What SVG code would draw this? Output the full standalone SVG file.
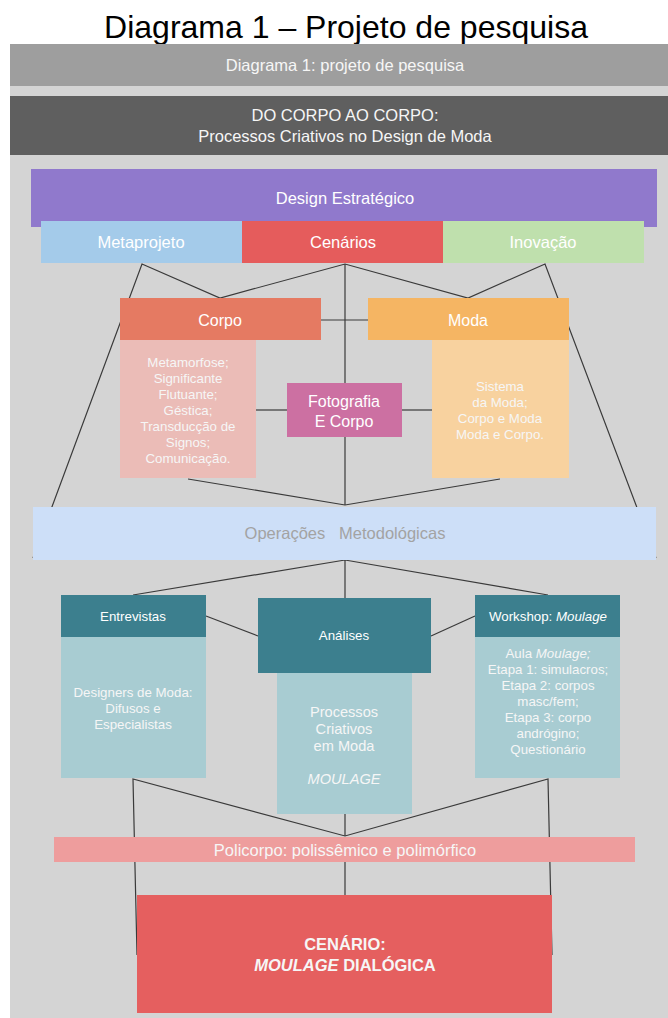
<svg xmlns="http://www.w3.org/2000/svg" width="668" height="1018" viewBox="0 0 668 1018" font-family="'Liberation Sans', Arial, sans-serif">
  <style>
    text { font-family: "Liberation Sans", Arial, sans-serif; text-anchor: middle; }
    .w { fill: #ffffff; }
    .lt { fill: #f6f6f6; }
    .h15 { font-size: 16.5px; }
    .h16 { font-size: 16px; }
    .s12 { font-size: 13.3px; }
    .s14 { font-size: 14.6px; }
    .conn line, .conn polyline { stroke: #3a3a3a; stroke-width: 1.2; fill: none; }
    .hdr { fill: #3c7f8e; }
    .bdy { fill: #a8ccd2; }
  </style>

  <rect width="668" height="1018" fill="#ffffff"/>
  <text x="346" y="38" font-size="32" fill="#000">Diagrama 1 – Projeto de pesquisa</text>

  <!-- panel -->
  <rect x="10" y="44" width="658" height="974" fill="#d4d4d4"/>

  <g id="top-bar">
    <rect x="10" y="44" width="658" height="42" fill="#9e9e9e"/>
    <text x="345" y="71" class="h15 lt">Diagrama 1: projeto de pesquisa</text>
  </g>

  <g id="title-bar">
    <rect x="10" y="96" width="658" height="59" fill="#5f5f5f"/>
    <text x="345" y="121" class="h15 lt">DO CORPO AO CORPO:</text>
    <text x="345" y="142" class="h15 lt">Processos Criativos no Design de Moda</text>
  </g>

  <g id="design-estrategico">
    <rect x="31" y="169" width="626" height="58" fill="#9079cc"/>
    <text x="345" y="204" class="h15 w">Design Estratégico</text>
  </g>

  <g id="metaprojeto">
    <rect x="41" y="221" width="201" height="42" fill="#a4cbea"/>
    <text x="141" y="248" class="h15 w">Metaprojeto</text>
  </g>
  <g id="cenarios">
    <rect x="242" y="221" width="201" height="42" fill="#e55c5c"/>
    <text x="343" y="248" class="h15 w">Cenários</text>
  </g>
  <g id="inovacao">
    <rect x="443" y="221" width="201" height="42" fill="#bfe0ad"/>
    <text x="543" y="248" class="h15 w">Inovação</text>
  </g>

  <!-- connectors -->
  <g class="conn">
    <polyline points="33,558 142,264 220,298 345,264 468,298 545,264 656,558"/>
    <line x1="345" y1="264" x2="345" y2="505"/>
    <line x1="321" y1="320" x2="368" y2="320"/>
    <line x1="256" y1="410" x2="287" y2="410"/>
    <line x1="402" y1="410" x2="432" y2="410"/>
    <polyline points="188,479 345,505 500,479"/>
    <polyline points="133,595 345,560 548,595"/>
    <line x1="345" y1="560" x2="345" y2="598"/>
    <line x1="206" y1="616" x2="258" y2="636"/>
    <line x1="431" y1="636" x2="475" y2="616"/>
    <polyline points="137,955 133,779 345,836 548,779 552,955"/>
    <line x1="345" y1="814" x2="345" y2="836"/>
    <line x1="345" y1="862" x2="345" y2="895"/>
  </g>

  <g id="corpo">
    <rect x="120" y="298" width="201" height="42" fill="#e57a62"/>
    <text x="220" y="326" class="h16 w">Corpo</text>
    <rect x="120" y="340" width="136" height="138" fill="#ebbcb7"/>
    <g class="s12 lt">
      <text x="188" y="367">Metamorfose;</text>
      <text x="188" y="383">Significante</text>
      <text x="188" y="399">Flutuante;</text>
      <text x="188" y="415">Géstica;</text>
      <text x="188" y="431">Transducção de</text>
      <text x="188" y="447">Signos;</text>
      <text x="188" y="463">Comunicação.</text>
    </g>
  </g>

  <g id="moda">
    <rect x="368" y="298" width="201" height="42" fill="#f5b563"/>
    <text x="468" y="326" class="h16 w">Moda</text>
    <rect x="432" y="340" width="137" height="138" fill="#f8d29f"/>
    <g class="s12 lt">
      <text x="500" y="391">Sistema</text>
      <text x="500" y="407">da Moda;</text>
      <text x="500" y="423">Corpo e Moda</text>
      <text x="500" y="439">Moda e Corpo.</text>
    </g>
  </g>

  <g id="fotografia">
    <rect x="287" y="383" width="115" height="54" fill="#cc70a2"/>
    <text x="344" y="407" class="h16 w">Fotografia</text>
    <text x="344" y="427" class="h16 w">E Corpo</text>
  </g>

  <g id="operacoes">
    <rect x="33" y="507" width="623" height="53" fill="#cddff8"/>
    <text x="345" y="539" class="h15" fill="#a3a3a3" xml:space="preserve">Operações   Metodológicas</text>
  </g>

  <g id="entrevistas">
    <rect x="61" y="595" width="145" height="42" class="hdr"/>
    <text x="133" y="621" class="s12 w">Entrevistas</text>
    <rect x="61" y="637" width="145" height="141" class="bdy"/>
    <g class="s12 lt">
      <text x="133" y="697">Designers de Moda:</text>
      <text x="133" y="713">Difusos e</text>
      <text x="133" y="729">Especialistas</text>
    </g>
  </g>

  <g id="analises">
    <rect x="258" y="598" width="173" height="75" class="hdr"/>
    <text x="344" y="640" class="s12 w">Análises</text>
    <rect x="277" y="673" width="135" height="141" class="bdy"/>
    <g class="s14 lt">
      <text x="344" y="717">Processos</text>
      <text x="344" y="734">Criativos</text>
      <text x="344" y="751">em Moda</text>
      <text x="344" y="784" font-style="italic">MOULAGE</text>
    </g>
  </g>

  <g id="workshop">
    <rect x="475" y="595" width="145" height="42" class="hdr"/>
    <text x="548" y="621" class="s12 w">Workshop: <tspan font-style="italic">Moulage</tspan></text>
    <rect x="475" y="637" width="145" height="141" class="bdy"/>
    <g class="s12 lt">
      <text x="548" y="658">Aula <tspan font-style="italic">Moulage;</tspan></text>
      <text x="548" y="674">Etapa 1: simulacros;</text>
      <text x="548" y="690">Etapa 2: corpos</text>
      <text x="548" y="706">masc/fem;</text>
      <text x="548" y="722">Etapa 3: corpo</text>
      <text x="548" y="738">andrógino;</text>
      <text x="548" y="754">Questionário</text>
    </g>
  </g>

  <g id="policorpo">
    <rect x="54" y="837" width="581" height="25" fill="#ee9d9d"/>
    <text x="345" y="856" class="h15 lt">Policorpo: polissêmico e polimórfico</text>
  </g>

  <g id="cenario-final">
    <rect x="137" y="895" width="415" height="118" fill="#e55f5f"/>
    <text x="345" y="950" class="h15 lt" font-weight="bold">CENÁRIO:</text>
    <text x="345" y="971" class="h15 lt" font-weight="bold"><tspan font-style="italic">MOULAGE</tspan> DIALÓGICA</text>
  </g>
</svg>
